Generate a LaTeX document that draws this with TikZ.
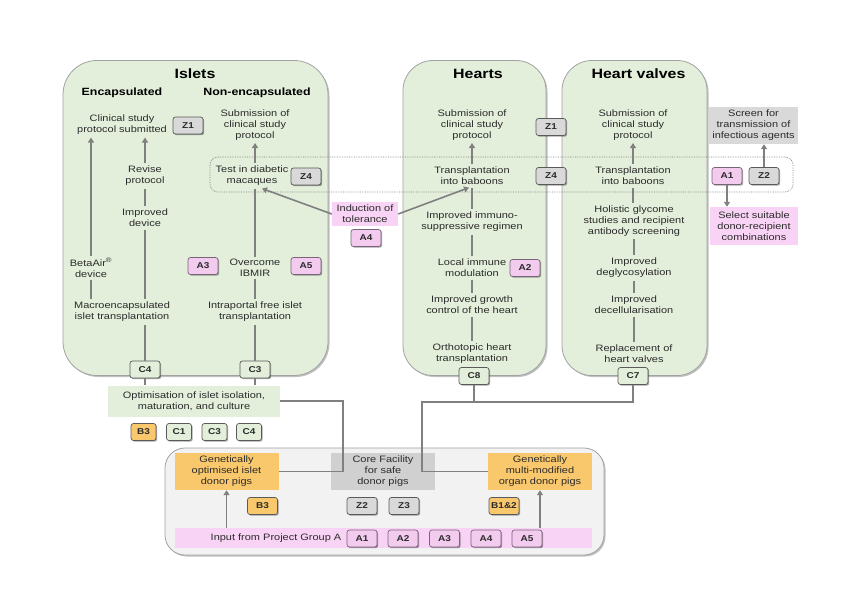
\documentclass[tikz,border=0pt]{standalone}
\usepackage{fontspec}
\setmainfont{Liberation Sans}[FakeStretch=1.18]
\usetikzlibrary{arrows.meta,shadows}
\definecolor{pgreen}{HTML}{E3EFDB}
\definecolor{pborder}{HTML}{A2A2A2}
\definecolor{txtc}{HTML}{2B2B2B}
\definecolor{linec}{HTML}{808080}
\definecolor{tagline}{HTML}{5A5A5A}
\definecolor{zgray}{HTML}{D9D9D9}
\definecolor{coregray}{HTML}{D0D0D0}
\definecolor{apink}{HTML}{F2CBEF}
\definecolor{apinkline}{HTML}{7A647A}
\definecolor{lpink}{HTML}{F9D3F5}
\definecolor{orng}{HTML}{FAC86C}
\definecolor{bgray}{HTML}{F2F2F2}
\newcommand{\bodyfont}{\fontsize{9.3pt}{11pt}\selectfont}
\newcommand{\tagfont}{\fontsize{8.5pt}{10pt}\selectfont\bfseries}
\begin{document}
\begin{tikzpicture}[x=1pt,y=-1pt,
  panel/.style={draw=pborder, line width=0.8pt, fill=pgreen, rounded corners=30pt,
    drop shadow={shadow xshift=1.5pt, shadow yshift=-1.5pt, opacity=0.25, fill=black}},
  bpanel/.style={draw=pborder, line width=0.8pt, fill=bgray, rounded corners=20pt,
    drop shadow={shadow xshift=1.5pt, shadow yshift=-1.5pt, opacity=0.25, fill=black}},
  frame/.style={draw=linec, densely dotted, line width=0.7pt, rounded corners=8pt},
  ttl/.style={font=\fontsize{13.5pt}{15pt}\selectfont\bfseries, text=black, inner sep=0pt},
  subt/.style={font=\fontsize{10.5pt}{12pt}\selectfont\bfseries, text=black, inner sep=0pt},
  txt/.style={font=\bodyfont, align=center, inner sep=2.5pt, text=txtc},
  tagbox/.style={draw=tagline, line width=0.7pt, rounded corners=2.5pt, minimum width=30pt,
    minimum height=17pt, inner sep=1pt, font=\tagfont, text=txtc,
    drop shadow={shadow xshift=1.2pt, shadow yshift=-1.2pt, opacity=0.35, fill=black}},
  ztag/.style={tagbox, fill=zgray},
  atag/.style={tagbox, fill=apink, draw=apinkline},
  ctag/.style={tagbox, fill=pgreen},
  btag/.style={tagbox, fill=orng},
  narrow/.style={minimum width=25pt},
  optbox/.style={txt, fill=pgreen, minimum width=172pt, minimum height=31pt},
  pinkbox/.style={txt, fill=lpink},
  greybox/.style={txt, fill=zgray},
  orangebox/.style={txt, fill=orng, minimum width=104pt, minimum height=37pt},
  corebox/.style={txt, fill=coregray, minimum width=104pt, minimum height=37pt},
  conn/.style={draw=linec, line width=1.6pt},
  arr/.style={conn, -{Triangle[width=6pt,length=5pt]}},
]
\useasboundingbox (0,0) rectangle (858,601);

% panels
\node[panel, minimum width=265pt, minimum height=315pt, rounded corners=34pt] (pIslets) at (195.5,218) {};
\node[panel, minimum width=143pt, minimum height=315pt] (pHearts) at (474.5,218) {};
\node[panel, minimum width=145pt, minimum height=315pt] (pValves) at (634.5,218) {};
\node[bpanel, minimum width=439pt, minimum height=107pt] (pBottom) at (384.5,501.5) {};

% dotted frame
\node[frame, minimum width=583pt, minimum height=35pt] (zone) at (501.5,174.5) {};

% titles
\node[ttl] (tI) at (195,73.5) {Islets};
\node[ttl] (tH) at (478,74) {Hearts};
\node[ttl] (tV) at (638.5,74) {Heart valves};
\node[subt] (sE) at (122,93) {Encapsulated};
\node[subt] (sN) at (257,93) {Non-encapsulated};

% Islets - encapsulated
\node[txt] (clin) at (122,125) {Clinical study\\protocol submitted};
\node[ztag] (z1a) at (188,125.5) {Z1};
\node[txt] (revise) at (145,176) {Revise\\protocol};
\node[txt] (device) at (145,218) {Improved\\device};
\node[txt] (beta) at (91,268) {BetaAir\textsuperscript{®}\\device};
\node[txt] (macro) at (122,312) {Macroencapsulated\\islet transplantation};
\node[ctag] (c4a) at (145,369.5) {C4};

% Islets - non-encapsulated
\node[txt] (subI) at (255,125) {Submission of\\clinical study\\protocol};
\node[txt] (test) at (252,176) {Test in diabetic\\macaques};
\node[ztag] (z4a) at (306,176.5) {Z4};
\node[txt] (ibmir) at (255,268) {Overcome\\IBMIR};
\node[atag] (a3a) at (203,266) {A3};
\node[atag] (a5a) at (306,266) {A5};
\node[txt] (intra) at (255,312) {Intraportal free islet\\transplantation};
\node[ctag] (c3a) at (255,369.5) {C3};

% optimisation
\node[optbox] (opt) at (194,401) {Optimisation of islet isolation,\\maturation, and culture};
\node[btag, narrow] (b3a) at (143.5,432) {B3};
\node[ctag, narrow] (c1) at (179,432) {C1};
\node[ctag, narrow] (c3b) at (214.5,432) {C3};
\node[ctag, narrow] (c4b) at (249,432) {C4};

% induction
\node[pinkbox, minimum width=66pt, minimum height=24pt] (induct) at (365,214) {Induction of\\tolerance};
\node[atag] (a4a) at (366,238) {A4};

% Hearts
\node[txt] (subH) at (472,125) {Submission of\\clinical study\\protocol};
\node[txt] (babH) at (472,176) {Transplantation\\into baboons};
\node[txt] (immuno) at (472,222) {Improved immuno-\\suppressive regimen};
\node[txt] (local) at (472,268) {Local immune\\modulation};
\node[atag] (a2a) at (525,268) {A2};
\node[txt] (growth) at (472,305) {Improved growth\\control of the heart};
\node[txt] (ortho) at (472,354) {Orthotopic heart\\transplantation};
\node[ctag] (c8) at (474,376) {C8};
\node[ztag] (z1b) at (551,127) {Z1};
\node[ztag] (z4b) at (551,176) {Z4};

% Heart valves
\node[txt] (subV) at (633,125) {Submission of\\clinical study\\protocol};
\node[txt] (babV) at (633,176) {Transplantation\\into baboons};
\node[txt] (holi) at (634,221) {Holistic glycome\\studies and recipient\\antibody screening};
\node[txt] (degly) at (634,268) {Improved\\deglycosylation};
\node[txt] (decell) at (634,305) {Improved\\decellularisation};
\node[txt] (repl) at (634,354) {Replacement of\\heart valves};
\node[ctag] (c7) at (633,376) {C7};

% right side
\node[greybox, minimum width=89pt, minimum height=37pt] (screen) at (753.5,125.5) {Screen for\\transmission of\\infectious agents};
\node[atag] (a1r) at (727,176) {A1};
\node[ztag] (z2r) at (764,176) {Z2};
\node[pinkbox, minimum width=88pt, minimum height=38pt] (select) at (754,226) {Select suitable\\donor-recipient\\combinations};

% bottom
\node[orangebox] (islet) at (226.5,471.5) {Genetically\\optimised islet\\donor pigs};
\node[corebox] (core) at (383,471.5) {Core Facility\\for safe\\donor pigs};
\node[orangebox] (multi) at (540,471.5) {Genetically\\multi-modified\\organ donor pigs};
\node[btag] (b3b) at (262.5,506) {B3};
\node[ztag] (z2b) at (362,506) {Z2};
\node[ztag] (z3b) at (404,506) {Z3};
\node[btag] (b12) at (504,506) {B1\&2};
\node[fill=lpink, minimum width=417pt, minimum height=20pt, inner sep=0pt] (strip) at (383.5,538) {};
\node[txt] (input) at (276,538) {Input from Project Group A};
\node[atag] (a1b) at (362,538.5) {A1};
\node[atag] (a2b) at (403,538.5) {A2};
\node[atag] (a3b) at (444.5,538.5) {A3};
\node[atag] (a4b) at (486,538.5) {A4};
\node[atag] (a5b) at (527,538.5) {A5};

% coordinates for junctions
\coordinate (ij) at (343,471.5);
\coordinate (hj) at (422,402);

% connectors - islets encapsulated
\draw[arr] (beta.north) -- (beta.north |- clin.south);
\draw[conn] (beta.south) -- (beta.south |- macro.north);
\draw[arr] (revise.north) -- (revise.north |- clin.south);
\draw[conn] (revise.south) -- (device.north);
\draw[conn] (device.south) -- (device.south |- macro.north);
\draw[conn] (c4a.north |- macro.south) -- (c4a.north);
\draw[conn] (c4a.south) -- (c4a.south |- opt.north);

% connectors - islets non-encapsulated
\draw[arr] (subI.south |- test.north) -- (subI.south);
\draw[conn] (ibmir.north |- test.south) -- (ibmir.north);
\draw[conn] (ibmir.south) -- (intra.north);
\draw[conn] (intra.south) -- (c3a.north);
\draw[conn] (c3a.south) -- (c3a.south |- opt.north);

% induction arrows
\draw[arr] (induct.west) -- ([xshift=10pt]test.south);
\draw[arr] (induct.east) -- ([xshift=-3pt]babH.south);

% hearts
\draw[arr] (babH.north) -- (babH.north |- subH.south);
\draw[conn] (babH.south) -- (immuno.north);
\draw[conn] (immuno.south) -- (local.north);
\draw[conn] (local.south) -- (growth.north);
\draw[conn] (growth.south) -- (ortho.north);

% valves
\draw[arr] (babV.north) -- (babV.north |- subV.south);
\draw[conn] (babV.south |- holi.north) -- (babV.south);
\draw[conn] (holi.south) -- (degly.north);
\draw[conn] (degly.south) -- (decell.north);
\draw[conn] (decell.south) -- (repl.north);

% right side
\draw[arr] (z2r.north) -- (z2r.north |- screen.south);
\draw[arr] (a1r.south) -- (a1r.south |- select.north);

% to bottom
\draw[conn] (opt.east) -| (ij) -- (islet.east);
\draw[conn] (c8.south) -- (c8.south |- hj);
\draw[conn] (c7.south) |- (hj) |- (multi.west);
\draw[arr] (islet.south |- strip.north) -- (islet.south);
\draw[arr] (multi.south |- strip.north) -- (multi.south);
\end{tikzpicture}
\end{document}
